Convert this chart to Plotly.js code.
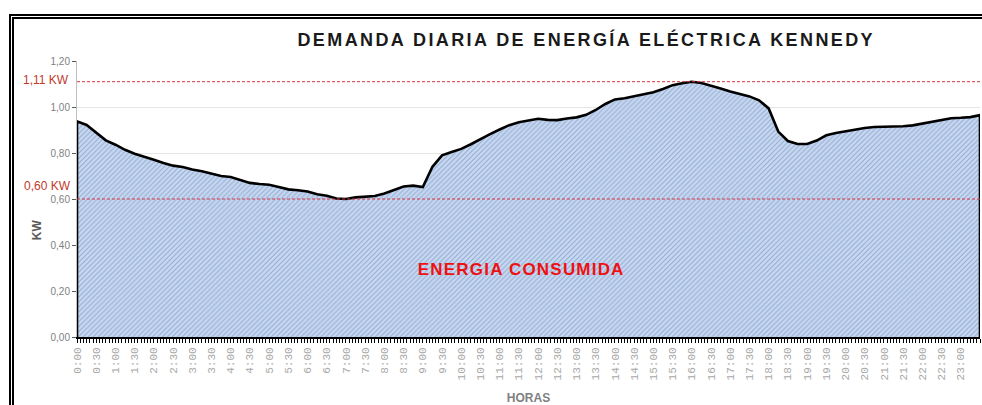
<!DOCTYPE html>
<html>
<head>
<meta charset="utf-8">
<script src="https://cdn.plot.ly/plotly-3.0.1.min.js"></script>
<style>
  html, body { margin: 0; padding: 0; background: #fff; overflow: hidden; }
  #chart { width: 982px; height: 405px; position: absolute; left: 0; top: 0; }
  #frame { position: absolute; left: 9px; top: 14px; width: 2000px; height: 2000px;
           border-left: 5px double #000; border-top: 5px double #000; pointer-events: none; }
  .gtitle { letter-spacing: 2.4px; }
</style>
</head>
<body>
<div id="chart"></div>
<div id="frame"></div>
<script>
// Horas (cada 15 minutos)
const horas = [
  "0:00","0:15","0:30","0:45","1:00","1:15","1:30","1:45","2:00","2:15",
  "2:30","2:45","3:00","3:15","3:30","3:45","4:00","4:15","4:30","4:45",
  "5:00","5:15","5:30","5:45","6:00","6:15","6:30","6:45","7:00","7:15",
  "7:30","7:45","8:00","8:15","8:30","8:45","9:00","9:15","9:30","9:45",
  "10:00","10:15","10:30","10:45","11:00","11:15","11:30","11:45","12:00","12:15",
  "12:30","12:45","13:00","13:15","13:30","13:45","14:00","14:15","14:30","14:45",
  "15:00","15:15","15:30","15:45","16:00","16:15","16:30","16:45","17:00","17:15",
  "17:30","17:45","18:00","18:15","18:30","18:45","19:00","19:15","19:30","19:45",
  "20:00","20:15","20:30","20:45","21:00","21:15","21:30","21:45","22:00","22:15",
  "22:30","22:45","23:00","23:15","23:30"
];
// Demanda (KW)
const demanda = [
  0.937,0.922,0.888,0.855,0.836,0.814,0.797,0.785,0.771,0.757,
  0.745,0.739,0.728,0.721,0.711,0.700,0.696,0.684,0.670,0.665,
  0.662,0.652,0.642,0.638,0.633,0.621,0.614,0.602,0.600,0.607,
  0.609,0.613,0.624,0.639,0.654,0.658,0.652,0.740,0.790,0.804,
  0.818,0.838,0.861,0.882,0.902,0.921,0.934,0.941,0.949,0.944,
  0.943,0.950,0.955,0.966,0.987,1.013,1.033,1.038,1.046,1.057,
  1.064,1.078,1.095,1.103,1.110,1.104,1.093,1.080,1.067,1.058,
  1.046,1.029,0.994,0.893,0.852,0.839,0.839,0.854,0.877,0.887,
  0.894,0.903,0.909,0.913,0.914,0.913,0.916,0.920,0.927,0.934,
  0.944,0.951,0.953,0.956,0.965
];
// Etiquetas del eje X (cada 30 minutos)
const etiquetas = [
  "0:00","0:30","1:00","1:30","2:00","2:30","3:00","3:30","4:00","4:30",
  "5:00","5:30","6:00","6:30","7:00","7:30","8:00","8:30","9:00","9:30",
  "10:00","10:30","11:00","11:30","12:00","12:30","13:00","13:30","14:00","14:30",
  "15:00","15:30","16:00","16:30","17:00","17:30","18:00","18:30","19:00","19:30",
  "20:00","20:30","21:00","21:30","22:00","22:30","23:00","23:30"
];
// Líneas de referencia (máximo y mínimo)
const referencias = [1.11, 0.60];
const referenciasTexto = ["1,11 KW", "0,60 KW"];

const aMin = s => { const p = s.split(":"); return (+p[0]) * 60 + (+p[1]); };
const xs = horas.map(aMin);
const xPoly = [xs[0]].concat(xs, [xs[xs.length - 1]]);
const yPoly = [0].concat(demanda, [0]);

const trace = {
  type: "scatter",
  mode: "lines",
  x: xPoly,
  y: yPoly,
  fill: "toself",
  fillcolor: "#c8d8ef",
  fillpattern: { shape: "/", bgcolor: "#c8d8ef", fgcolor: "#93acd6", size: 3.5, solidity: 0.3 },
  line: { color: "#000", width: 2.6 },
  hoverinfo: "skip",
  showlegend: false
};

const redLine = "rgb(215,50,60)";
const shapes = referencias.map(v => ({
  type: "line", xref: "paper", x0: 0, x1: 1, yref: "y", y0: v, y1: v,
  line: { color: redLine, width: 1, dash: "3px,2px" }, layer: "above"
}));

const annFont = { family: "Liberation Sans, Arial, sans-serif", size: 12, color: "#c0392b" };
const annotations = [
  { text: referenciasTexto[0], xref: "paper", yref: "paper", x: -0.0066, y: 0.931,
    xanchor: "right", yanchor: "middle", showarrow: false, font: annFont },
  { text: referenciasTexto[1], xref: "paper", yref: "paper", x: -0.0044, y: 0.547,
    xanchor: "right", yanchor: "middle", showarrow: false, font: annFont },
  { text: "<b>ENERGIA CONSUMIDA</b>", xref: "paper", yref: "paper", x: 0.492, y: 0.246,
    xanchor: "center", yanchor: "middle", showarrow: false,
    font: { family: "Liberation Sans, Arial, sans-serif", size: 17, color: "#ee1111" } },
  { text: "<b>KW</b>", xref: "paper", yref: "paper", x: -0.044, y: 0.388,
    xanchor: "center", yanchor: "middle", textangle: -90, showarrow: false,
    font: { family: "Liberation Sans, Arial, sans-serif", size: 12, color: "#595959" } }
];

const layout = {
  width: 982, height: 405,
  margin: { l: 77, r: 2, t: 61, b: 68 },
  paper_bgcolor: "#ffffff",
  plot_bgcolor: "#ffffff",
  separators: ",.",
  title: {
    text: "<b>DEMANDA DIARIA DE ENERGÍA ELÉCTRICA KENNEDY</b>",
    font: { family: "Liberation Sans, Arial, sans-serif", size: 18, color: "#1a1a1a" },
    xref: "container", x: 0.597, xanchor: "center",
    yref: "container", y: 0.901, yanchor: "middle"
  },
  xaxis: {
    type: "linear",
    range: [xs[0], xs[xs.length - 1]],
    tickmode: "array",
    tickvals: etiquetas.map(aMin),
    ticktext: etiquetas,
    tickangle: -90,
    tickfont: { family: "Liberation Mono, monospace", size: 11, color: "#a8a8a8" },
    ticks: "outside", ticklen: 4, tickcolor: "#000", tickwidth: 1,
    minor: { tickmode: "linear", tick0: 0, dtick: 5, ticks: "outside", ticklen: 4, tickcolor: "#000", tickwidth: 1, showgrid: false },
    showline: true, linecolor: "#000", linewidth: 2,
    showgrid: false, zeroline: false,
    automargin: false,
    title: { text: "<b>HORAS</b>", font: { family: "Liberation Sans, Arial, sans-serif", size: 12, color: "#7f7f7f" }, standoff: 15 }
  },
  yaxis: {
    range: [0, 1.2],
    tickmode: "linear", tick0: 0, dtick: 0.2,
    tickformat: ".2f",
    tickfont: { family: "Liberation Sans, Arial, sans-serif", size: 10, color: "#7f7f7f" },
    ticks: "outside", ticklen: 4, tickcolor: "#595959", tickwidth: 1,
    showline: true, linecolor: "#bfbfbf", linewidth: 1,
    showgrid: true, gridcolor: "#e6e6e6", gridwidth: 1,
    zeroline: false,
    automargin: false
  },
  shapes: shapes,
  annotations: annotations
};

Plotly.newPlot("chart", [trace], layout, { staticPlot: true, displayModeBar: false }).then(() => {
  document.querySelectorAll(".annotation-text").forEach(el => {
    if (el.textContent.indexOf("ENERGIA") >= 0) el.style.letterSpacing = "1.2px";
  });
});
</script>
</body>
</html>
